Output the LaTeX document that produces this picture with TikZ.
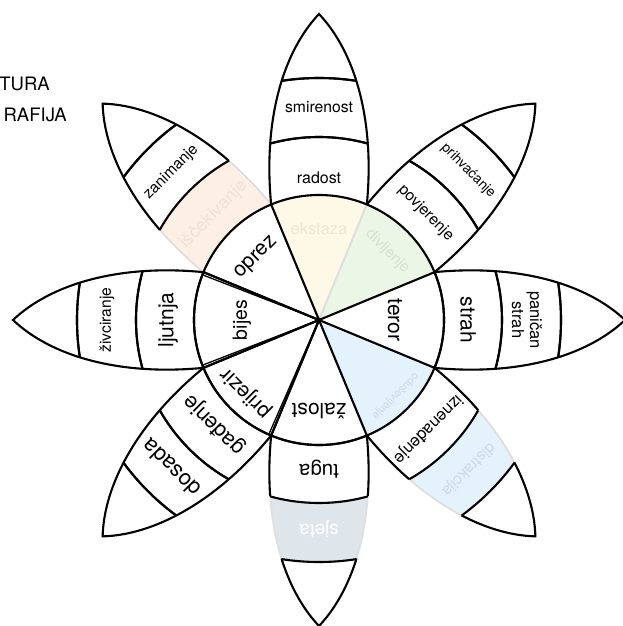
\documentclass[tikz,border=0pt]{standalone}
\usepackage{fontspec}
\setmainfont{TeX Gyre Heros}
\definecolor{fEks}{HTML}{FEF8E7}
\definecolor{fDiv}{HTML}{ECF6E6}
\definecolor{fIsc}{HTML}{FDEFE4}
\definecolor{fBlue}{HTML}{E4F2FB}
\definecolor{fSje}{HTML}{DEE5EB}
\definecolor{tEks}{HTML}{ECE6D6}
\definecolor{tDiv}{HTML}{D8E0D2}
\definecolor{tIsc}{HTML}{EEE2D9}
\definecolor{tBlue}{HTML}{CCDAE5}
\definecolor{lineGray}{HTML}{DFDFDF}
\newcommand\fsz[1]{\fontsize{#1}{#1}\selectfont}
\tikzset{
  petalshape/.style={insert path={(0,0) -- (-47.84,115.49) .. controls (-56,200) and (-36,268) .. (0,306) .. controls (36,268) and (56,200) .. (47.84,115.49) -- cycle}},
  blk/.style={draw=black, line width=2.1pt},
  faint/.style={draw=lineGray, line width=1.8pt},
  lbl/.style={inner sep=0pt, text=black, align=center},
}
\newcommand\partfill[4]{%
  \begin{scope}[rotate=#1-90]
    \clip[petalshape];
    \fill[#4, even odd rule] (0,0) circle[radius=#3] (0,0) circle[radius=#2];
  \end{scope}}
\newcommand\partdraw[4]{%
  \begin{scope}[rotate=#1-90]
    \begin{scope}[even odd rule]
      \clip (0,0) circle[radius=#3] (0,0) circle[radius=#2];
      \path[#4, petalshape];
    \end{scope}
    \begin{scope}
      \clip[petalshape];
      \path[#4] (0,0) circle[radius=#2] (0,0) circle[radius=#3];
    \end{scope}
  \end{scope}}
\begin{document}
\begin{tikzpicture}[x=1pt,y=1pt]
\useasboundingbox (-319,-306) rectangle (303,320);
\fill[white] (-319,-306) rectangle (303,320);
% coloured fills
\partfill{90}{0}{125}{fEks}
\partfill{45}{0}{125}{fDiv}
\partfill{-45}{0}{125}{fBlue}
\partfill{-45}{183}{242}{fBlue}
\partfill{-90}{183}{242}{fSje}
\partfill{135}{125}{183}{fIsc}
% faint outlines
\partdraw{90}{0}{125}{faint}
\partdraw{45}{0}{125}{faint}
\partdraw{-45}{0}{125}{faint}
\partdraw{-45}{183}{242}{faint}
\partdraw{-90}{183}{242}{faint}
\partdraw{135}{125}{183}{faint}
% black outlines
\partdraw{90}{125}{183}{blk}
\partdraw{90}{183}{242}{blk}
\partdraw{90}{242}{400}{blk}
\partdraw{45}{125}{183}{blk}
\partdraw{45}{183}{242}{blk}
\partdraw{45}{242}{400}{blk}
\partdraw{0}{0}{125}{blk}
\partdraw{0}{125}{183}{blk}
\partdraw{0}{183}{242}{blk}
\partdraw{0}{242}{400}{blk}
\partdraw{-45}{125}{183}{blk}
\partdraw{-45}{242}{400}{blk}
\partdraw{-90}{0}{125}{blk}
\partdraw{-90}{125}{183}{blk}
\partdraw{-90}{242}{400}{blk}
\partdraw{225}{0}{125}{blk}
\partdraw{225}{125}{183}{blk}
\partdraw{225}{183}{242}{blk}
\partdraw{225}{242}{400}{blk}
\partdraw{180}{0}{125}{blk}
\partdraw{180}{125}{183}{blk}
\partdraw{180}{183}{242}{blk}
\partdraw{180}{242}{400}{blk}
\partdraw{135}{0}{125}{blk}
\partdraw{135}{183}{242}{blk}
\partdraw{135}{242}{400}{blk}
% slightly doubled edges
\draw[line width=1.3pt] (0,0) -- (158.8:124);
\draw[line width=1.3pt] (0,0) -- (201.2:124);
\draw[line width=1.3pt] (0,0) -- (246.3:124);
% labels: joy
\node[lbl, text=tEks, rotate=0, font=\fsz{16.5}] (ekstaza) at (90:91) {ekstaza};
\node[lbl, rotate=0, font=\fsz{16}] (radost) at (90:142) {radost};
\node[lbl, rotate=0, font=\fsz{15.7}] (smirenost) at (90:213) {smirenost};
% trust
\node[lbl, text=tDiv, rotate=-45, font=\fsz{15.3}] (divljenje) at (45:97) {divljenje};
\node[lbl, rotate=-45, font=\fsz{15.6}] (povjerenje) at (45:151) {povjerenje};
\node[lbl, rotate=-45, font=\fsz{13.8}] (prihvacanje) at (45:211) {prihvaćanje};
% fear
\node[lbl, rotate=-90, font=\fsz{21}] (teror) at (0:76) {teror};
\node[lbl, rotate=-90, font=\fsz{21}] (strah) at (0:149) {strah};
\node[lbl, rotate=-90, font=\fontsize{16.5}{18}\selectfont] (panican) at (0:208) {paničan\\strah};
% surprise
\node[lbl, text=tBlue, rotate=-135, font=\fsz{11}] (odusevljenje) at (-45:108) {oduševljenje};
\node[lbl, rotate=-135, font=\fsz{16.7}] (iznenadjenje) at (-45:154) {iznenađenje};
\node[lbl, text=tBlue, rotate=-135, font=\fsz{15.4}] (distrakcija) at (-45:211) {distrakcija};
% sadness
\node[lbl, rotate=180, font=\fsz{21}] (zalost) at (-90:91) {žalost};
\node[lbl, rotate=180, font=\fsz{20.5}] (tuga) at (-90:149) {tuga};
\node[lbl, text=white, rotate=180, font=\fsz{19}] (sjeta) at (-90:209) {sjeta};
% disgust
\node[lbl, rotate=135, font=\fsz{21}] (prijezir) at (225:103) {prijezir};
\node[lbl, rotate=135, font=\fsz{21.5}] (gadjenje) at (225:148) {gađenje};
\node[lbl, rotate=135, font=\fsz{22}] (dosada) at (225:209) {dosada};
% anger
\node[lbl, rotate=90, font=\fsz{19.5}] (bijes) at (180:77) {bijes};
\node[lbl, rotate=90, font=\fsz{21}] (ljutnja) at (180:151) {ljutnja};
\node[lbl, rotate=90, font=\fsz{15.6}] (zivciranje) at (180:212) {živciranje};
% anticipation
\node[lbl, rotate=45, font=\fsz{21}] (oprez) at (135:88) {oprez};
\node[lbl, text=tIsc, rotate=45, font=\fsz{18}] (iscekivanje) at (135:149) {iščekivanje};
\node[lbl, rotate=45, font=\fsz{15.4}] (zanimanje) at (135:209) {zanimanje};
% cut-off heading
\node[inner sep=0pt, anchor=base east, font=\fsz{18.5}] (tura) at (-269,229) {TURA};
\node[inner sep=0pt, anchor=base east, font=\fsz{18.5}] (rafija) at (-252,198) {RAFIJA};
\end{tikzpicture}
\end{document}
